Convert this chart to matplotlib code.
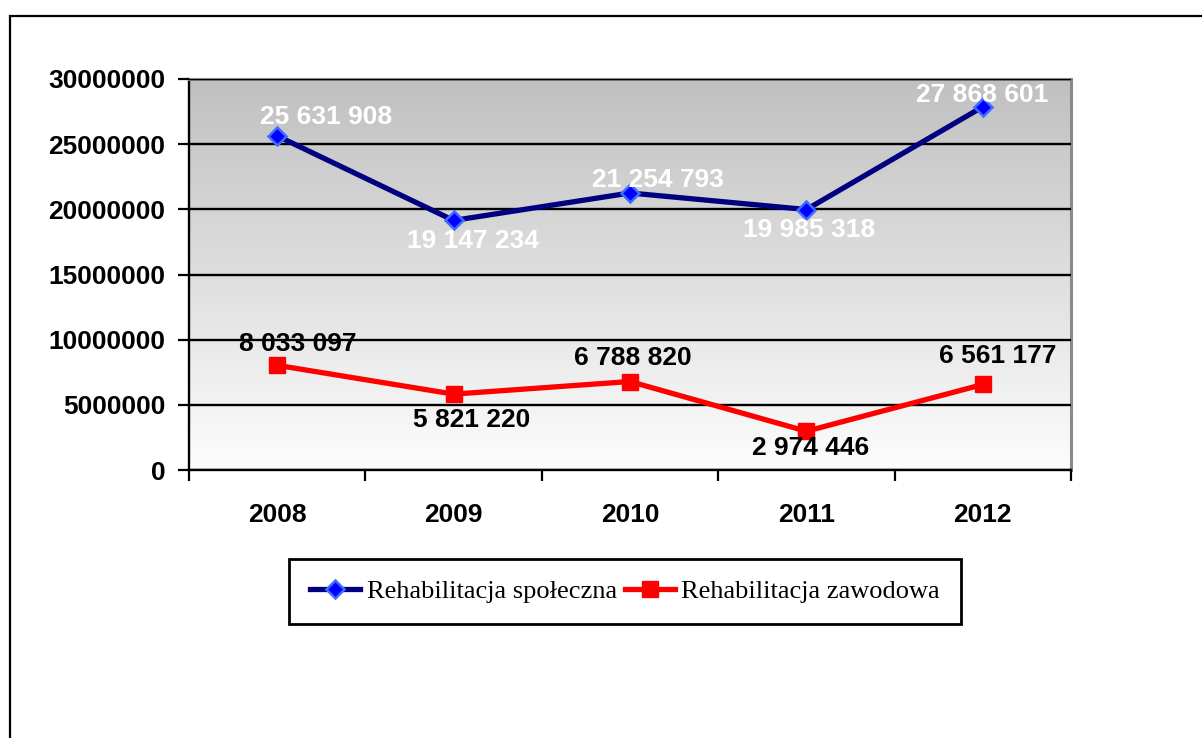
import numpy as np
import matplotlib.pyplot as plt
from matplotlib.patches import Rectangle
from matplotlib.ticker import FixedLocator

years = ["2008", "2009", "2010", "2011", "2012"]
spoleczna = [25631908, 19147234, 21254793, 19985318, 27868601]
zawodowa = [8033097, 5821220, 6788820, 2974446, 6561177]

# label offsets in pixels (dx, dy), as placed in the original
off_spol = [(49, 19), (19, -21), (28, 13), (3, -20), (-1, 12)]
off_zaw = [(21, 21), (18, -26), (3, 24), (4, -17), (15, 28)]


def fmt(v):
    return f"{v:,}".replace(",", " ")


plt.rcParams['font.family'] = ['Liberation Sans', 'DejaVu Sans']

fig = plt.figure(figsize=(12.02, 7.38), dpi=100)
ax = fig.add_axes([189/1202, 1 - 470/738, (1071-189)/1202, (470-79)/738])

x = np.arange(len(years))
ax.set_xlim(-0.5, len(years) - 0.5)
ax.set_ylim(0, 30000000)

# gradient background
grad = np.linspace(0, 1, 256).reshape(-1, 1)
top = np.array([192, 192, 192]) / 255
bot = np.array([253, 253, 253]) / 255
img = top + (bot - top) * grad[:, :, None]
ax.imshow(img, extent=[0, 1, 0, 1], transform=ax.transAxes, aspect='auto', zorder=0)

ax.set_yticks(np.arange(0, 30000001, 5000000))
ax.set_yticklabels([str(v) for v in range(0, 30000001, 5000000)])
ax.yaxis.grid(True, color='black', linewidth=1.7, zorder=1)
ax.set_axisbelow(False)

ax.set_xticks(x)
ax.set_xticklabels(years)
ax.xaxis.set_minor_locator(FixedLocator(np.arange(-0.5, len(years), 1)))
ax.tick_params(axis='x', which='major', length=0, pad=24)
ax.tick_params(axis='x', which='minor', length=8, width=1.6, direction='out')
ax.tick_params(axis='y', length=8, width=1.6, direction='out', pad=9)
for lbl in ax.get_xticklabels() + ax.get_yticklabels():
    lbl.set_fontsize(19)
    lbl.set_fontweight('bold')

for side in ['left', 'bottom']:
    ax.spines[side].set_color('black')
    ax.spines[side].set_linewidth(1.7)
for side in ['top', 'right']:
    ax.spines[side].set_color('#8a8a8a')
    ax.spines[side].set_linewidth(2.2)

ax.plot(x, spoleczna, color='#000080', linewidth=3.8, marker='D', markersize=9.5,
        markerfacecolor='#0000ff', markeredgecolor='#3d6cff', markeredgewidth=1.8,
        label='Rehabilitacja społeczna', zorder=4)
ax.plot(x, zawodowa, color='#ff0000', linewidth=3.8, marker='s', markersize=11.5,
        markerfacecolor='#ff0000', markeredgecolor='#ff0000',
        label='Rehabilitacja zawodowa', zorder=4)

for xi, v, (dx, dy) in zip(x, spoleczna, off_spol):
    ax.annotate(fmt(v), (xi, v), xytext=(dx, dy), textcoords='offset pixels',
                ha='center', va='center', color='white', fontsize=19,
                fontweight='bold', zorder=5)
for xi, v, (dx, dy) in zip(x, zawodowa, off_zaw):
    ax.annotate(fmt(v), (xi, v), xytext=(dx, dy), textcoords='offset pixels',
                ha='center', va='center', color='black', fontsize=19,
                fontweight='bold', zorder=5)

leg = fig.legend(loc='center', bbox_to_anchor=(625/1202, 1 - 591.5/738), ncol=2,
                 frameon=True, fancybox=False, framealpha=1, handlelength=1.9,
                 handletextpad=0.25, columnspacing=0.3, borderpad=0.8,
                 borderaxespad=0.3,
                 prop={'family': 'Liberation Serif', 'size': 19})
leg.get_frame().set_edgecolor('black')
leg.get_frame().set_linewidth(2)

# outer chart border (cut off on right and bottom)
fig.patches.append(Rectangle((10/1202, -0.2), 1.2, 1.2 - 16/738, transform=fig.transFigure,
                             fill=False, edgecolor='black', linewidth=1.6))

fig.savefig('out.png', dpi=100)
